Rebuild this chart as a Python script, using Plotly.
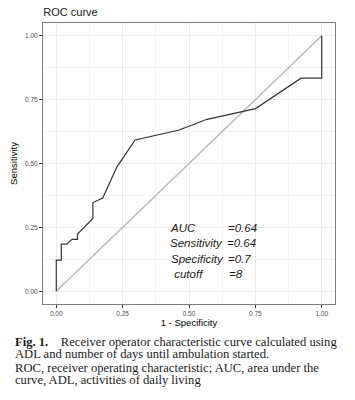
import plotly.graph_objects as go

# ROC curve points (1 - specificity, sensitivity)
fpr = [0.0, 0.0, 0.019, 0.019, 0.040, 0.059, 0.080, 0.080, 0.138, 0.138, 0.175,
       0.228, 0.297, 0.460, 0.568, 0.751, 0.922, 1.0, 1.0]
sens = [0.0, 0.122, 0.122, 0.184, 0.184, 0.203, 0.203, 0.224, 0.285, 0.347, 0.365,
        0.486, 0.592, 0.630, 0.673, 0.715, 0.834, 0.834, 1.0]
ref_x = [0.0, 1.0]
ref_y = [0.0, 1.0]

tick_vals = [0.0, 0.25, 0.5, 0.75, 1.0]
tick_text = ["0.00", "0.25", "0.50", "0.75", "1.00"]

stat_labels = ["AUC", "Sensitivity", "Specificity", " cutoff"]
stat_values = ["=0.64", "=0.64", "=0.7", "=8"]
stat_label_x = [0.419, 0.419, 0.424, 0.424]
stat_value_x = [0.641, 0.636, 0.641, 0.645]
stat_y = [0.246, 0.188, 0.127, 0.069]

caption_lines = [
    "<b>Fig. 1.</b>\u00a0\u00a0\u00a0\u00a0Receiver operator characteristic curve calculated using",
    "ADL and number of days until ambulation started.",
    "ROC, receiver operating characteristic; AUC, area under the",
    "curve, ADL, activities of daily living",
]
caption_px_y = [342.7, 354.2, 368.3, 380.0]

# page body has an 8px margin: lay out in page pixels, then offset
OFF = 8
W, H = 355 - OFF, 400 - OFF
L, R, T, B = 43.3 - OFF, 335.3 - OFF, 22.7 - OFF, 304.3 - OFF

fig = go.Figure()
fig.add_trace(go.Scatter(x=ref_x, y=ref_y, mode="lines",
                         line=dict(color="#b4bcbc", width=1.6), hoverinfo="skip"))
fig.add_trace(go.Scatter(x=fpr, y=sens, mode="lines",
                         line=dict(color="#333333", width=1.2)))

axis_common = dict(
    range=[-0.05, 1.05], tickvals=tick_vals, ticktext=tick_text,
    showgrid=True, gridcolor="#ebebeb", gridwidth=1,
    minor=dict(showgrid=True, gridcolor="#f3f3f3", gridwidth=0.6,
               tickvals=[0.125, 0.375, 0.625, 0.875]),
    ticks="outside", ticklen=3, tickcolor="#333333", tickwidth=1,
    tickfont=dict(family="Liberation Sans, Arial", size=6.5, color="#4d4d4d"),
    showline=True, linecolor="#7f7f7f", linewidth=1, mirror=True,
    zeroline=False, fixedrange=True,
)

fig.update_xaxes(**axis_common,
                 title=dict(text="1 - Specificity", standoff=3,
                            font=dict(family="Liberation Sans, Arial", size=9.5, color="#000000")))
fig.update_yaxes(**axis_common,
                 title=dict(text="Sensitivity", standoff=6,
                            font=dict(family="Liberation Sans, Arial", size=9.5, color="#000000")))

annotations = []
for lab, val, lx, vx, y in zip(stat_labels, stat_values, stat_label_x, stat_value_x, stat_y):
    annotations.append(dict(x=lx, y=y, xref="x", yref="y", text=f"<i>{lab}</i>",
                            showarrow=False, xanchor="left", yanchor="middle",
                            font=dict(family="Liberation Sans, Arial", size=11.5, color="#1a1a1a")))
    annotations.append(dict(x=vx, y=y, xref="x", yref="y", text=f"<i>{val}</i>",
                            showarrow=False, xanchor="left", yanchor="middle",
                            font=dict(family="Liberation Sans, Arial", size=11.5, color="#1a1a1a")))

for line, py in zip(caption_lines, caption_px_y):
    annotations.append(dict(x=(13.3 - OFF - L) / (R - L), y=-(py - OFF - B) / (B - T),
                            xref="paper", yref="paper", text=line, showarrow=False,
                            xanchor="left", yanchor="middle",
                            font=dict(family="Liberation Serif, Times New Roman", size=12.6,
                                      color="#1a1a1a")))

fig.update_layout(
    width=W, height=H,
    margin=dict(l=L, r=W - R, t=T, b=H - B, pad=0, autoexpand=False),
    paper_bgcolor="white", plot_bgcolor="white",
    showlegend=False,
    title=dict(text="ROC curve", xref="container", x=(43.3 - OFF) / W, xanchor="left",
               yref="container", y=1 - (12.3 - OFF) / H, yanchor="middle",
               font=dict(family="Liberation Sans, Arial", size=11, color="#1a1a1a")),
    annotations=annotations,
)

fig.write_html("out.html", config={"displayModeBar": False})
